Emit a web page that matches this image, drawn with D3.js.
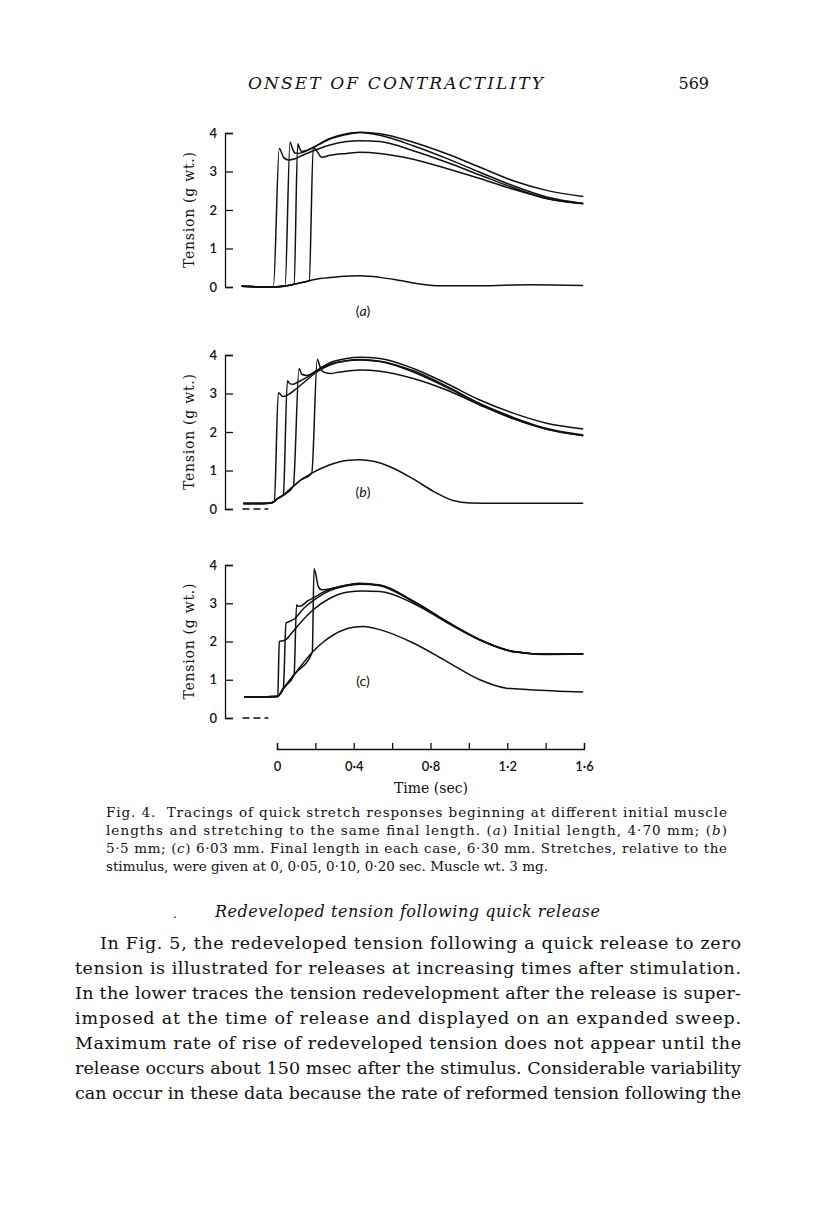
<!DOCTYPE html>
<html>
<head>
<meta charset="utf-8">
<script src="https://d3js.org/d3.v7.min.js"></script>
<style>
  body { margin: 0; background: #fff; }
</style>
</head>
<body>
<svg id="page" width="816" height="1221"></svg>
<script>
    // Fig. 4 -- tension traces.
    // each point is [time (sec), tension (g wt.)]
    const timeTicks = [0, 0.2, 0.4, 0.6, 0.8, 1.0, 1.2, 1.4, 1.6];
    const tensionTicks = [0, 1, 2, 3, 4];

    // (a) initial length 4.70 mm
    const baseA = [[-0.184,0.02],[-0.019,0.0],[0.05,0.03],[0.123,0.11],[0.224,0.22],[0.328,0.27],[0.432,0.29],
        [0.536,0.25],[0.641,0.17],[0.745,0.08],[0.849,0.03],[1.057,0.03],[1.318,0.06],[1.596,0.04]];
    const stretchA0 = [[-0.019,0.0],[0.012,3.60],[0.035,3.36],[0.06,3.30],[0.094,3.33],[0.137,3.43],[0.189,3.54],
        [0.276,3.69],[0.363,3.78],[0.432,3.80],[0.536,3.78],[0.71,3.54],[0.884,3.24],[1.057,2.91],[1.231,2.58],[1.405,2.30],[1.596,2.17]];
    const stretchA05 = [[0.042,0.02],[0.068,3.76],[0.08,3.6],[0.094,3.48],[0.11,3.47],[0.137,3.5],[0.189,3.63],
        [0.276,3.86],[0.363,3.98],[0.432,4.02],[0.536,3.98],[0.71,3.76],[0.884,3.46],[1.057,3.11],[1.231,2.76],[1.405,2.51],[1.596,2.35]];
    const stretchA10 = [[0.089,0.07],[0.108,3.72],[0.118,3.6],[0.129,3.52],[0.15,3.54],[0.189,3.62],[0.276,3.84],
        [0.363,3.96],[0.432,4.01],[0.536,3.94],[0.71,3.67],[0.884,3.34],[1.057,2.98],[1.231,2.63],[1.405,2.34],[1.596,2.17]];
    const stretchA20 = [[0.168,0.16],[0.189,3.63],[0.205,3.55],[0.233,3.37],[0.276,3.42],[0.363,3.47],[0.432,3.50],
        [0.536,3.47],[0.71,3.32],[0.884,3.08],[1.057,2.82],[1.231,2.54],[1.405,2.30],[1.596,2.16]];

    // (b) initial length 5.5 mm
    const baseB = [[-0.175,0.14],[-0.04,0.15],[-0.014,0.2],[0.0,0.26],[0.033,0.36],[0.085,0.59],[0.12,0.74],
        [0.181,0.93],[0.276,1.15],[0.363,1.26],[0.432,1.28],[0.502,1.24],[0.606,1.06],[0.71,0.78],[0.815,0.46],
        [0.918,0.22],[1.005,0.155],[1.144,0.147],[1.596,0.147]];
    const stretchB0 = [[-0.014,0.2],[0.007,3.02],[0.033,2.92],[0.068,3.0],[0.102,3.13],[0.155,3.35],[0.207,3.56],
        [0.276,3.74],[0.363,3.85],[0.432,3.88],[0.536,3.84],[0.71,3.59],[0.884,3.19],[1.057,2.74],[1.231,2.38],[1.405,2.09],[1.596,1.92]];
    const stretchB05 = [[0.033,0.36],[0.054,3.33],[0.068,3.25],[0.085,3.24],[0.102,3.28],[0.155,3.42],[0.207,3.6],
        [0.276,3.8],[0.363,3.91],[0.432,3.94],[0.536,3.91],[0.71,3.65],[0.884,3.26],[1.057,2.83],[1.231,2.49],[1.405,2.23],[1.596,2.08]];
    const stretchB10 = [[0.085,0.59],[0.115,3.65],[0.129,3.5],[0.155,3.47],[0.207,3.58],[0.276,3.76],[0.363,3.85],
        [0.432,3.87],[0.536,3.83],[0.71,3.56],[0.884,3.16],[1.057,2.72],[1.231,2.36],[1.405,2.08],[1.596,1.91]];
    const stretchB20 = [[0.181,0.93],[0.21,3.89],[0.224,3.7],[0.241,3.56],[0.276,3.52],[0.328,3.56],[0.432,3.61],
        [0.536,3.58],[0.71,3.39],[0.884,3.09],[1.057,2.70],[1.231,2.34],[1.405,2.07],[1.596,1.90]];

    // (c) initial length 6.03 mm
    const baseC = [[-0.172,0.55],[-0.005,0.56],[0.004,0.57],[0.033,0.77],[0.089,1.13],[0.184,1.72],[0.24,1.98],
        [0.293,2.17],[0.398,2.37],[0.45,2.39],[0.536,2.31],[0.71,1.96],[0.884,1.48],[1.057,1.00],[1.196,0.78],
        [1.318,0.74],[1.596,0.68]];
    const stretchC0 = [[0.004,0.57],[0.012,2.0],[0.03,2.02],[0.05,2.06],[0.068,2.17],[0.12,2.48],[0.189,2.83],
        [0.276,3.13],[0.363,3.29],[0.45,3.32],[0.536,3.31],[0.71,3.0],[0.884,2.5],[1.057,2.04],[1.231,1.73],[1.405,1.66],[1.596,1.67]];
    const stretchC05 = [[0.033,0.77],[0.047,2.48],[0.068,2.53],[0.094,2.6],[0.12,2.76],[0.16,2.96],[0.189,3.07],
        [0.233,3.22],[0.276,3.33],[0.363,3.46],[0.432,3.50],[0.536,3.47],[0.71,3.06],[0.884,2.53],[1.057,2.05],
        [1.231,1.74],[1.405,1.67],[1.596,1.68]];
    const stretchC10 = [[0.089,1.13],[0.102,2.96],[0.11,2.92],[0.125,2.93],[0.16,3.06],[0.189,3.14],[0.233,3.27],
        [0.276,3.36],[0.363,3.48],[0.432,3.51],[0.536,3.46],[0.71,3.04],[0.884,2.51],[1.057,2.04],[1.231,1.74],
        [1.405,1.67],[1.596,1.68]];
    const stretchC20 = [[0.184,1.72],[0.193,3.90],[0.203,3.74],[0.215,3.44],[0.233,3.35],[0.276,3.38],[0.363,3.47],
        [0.432,3.52],[0.536,3.48],[0.71,3.05],[0.884,2.52],[1.057,2.05],[1.231,1.74],[1.405,1.67],[1.596,1.68]];

    // page text
    const runningHead = "ONSET OF CONTRACTILITY";
    const pageNumber = "569";
    const captionLines = [
        [["Fig. 4.  Tracings of quick stretch responses beginning at different initial muscle", false]],
        [["lengths and stretching to the same final length. (", false], ["a", true], [") Initial length, 4·70 mm; (", false], ["b", true], [")", false]],
        [["5·5 mm; (", false], ["c", true], [") 6·03 mm. Final length in each case, 6·30 mm. Stretches, relative to the", false]],
        [["stimulus, were given at 0, 0·05, 0·10, 0·20 sec. Muscle wt. 3 mg.", false]]
    ];
    const sectionHeading = "Redeveloped tension following quick release";
    const bodyLines = [
        "In Fig. 5, the redeveloped tension following a quick release to zero",
        "tension is illustrated for releases at increasing times after stimulation.",
        "In the lower traces the tension redevelopment after the release is super-",
        "imposed at the time of release and displayed on an expanded sweep.",
        "Maximum rate of rise of redeveloped tension does not appear until the",
        "release occurs about 150 msec after the stimulus. Considerable variability",
        "can occur in these data because the rate of reformed tension following the"
    ];

    const SERIF = "'DejaVu Serif', serif";
    const SANS = "Lato, 'DejaVu Sans', sans-serif";
    const INK = "#111";

    const svg = d3.select("#page");

    const x = d3.scaleLinear().domain([0, 1.6]).range([277, 584]);

    const panels = [
        { tag: "a", italic: true,  base: baseA, stretches: [stretchA0, stretchA05, stretchA10, stretchA20], bottom: 287, top: 133, tagY: 316, dash: false },
        { tag: "b", italic: true,  base: baseB, stretches: [stretchB0, stretchB05, stretchB10, stretchB20], bottom: 509, top: 355, tagY: 497, dash: true },
        { tag: "c", italic: false, base: baseC, stretches: [stretchC0, stretchC05, stretchC10, stretchC20], bottom: 718, top: 565, tagY: 686, dash: true }
    ];

    panels.forEach(p => {
        const y = d3.scaleLinear().domain([0, 4]).range([p.bottom, p.top]);
        const g = svg.append("g");

        // y axis, ticks pointing into the plot
        g.append("g")
            .attr("transform", "translate(225,0)")
            .call(d3.axisLeft(y).tickValues(tensionTicks).tickFormat(d3.format("d"))
                .tickSizeInner(-8).tickSizeOuter(-8).tickPadding(8))
            .call(a => a.selectAll("path, line").attr("stroke", INK).attr("stroke-width", 1.3))
            .call(a => a.selectAll("text").attr("fill", INK).style("font", `600 13px ${SANS}`));

        g.append("text")
            .attr("transform", `translate(194,${(p.top + p.bottom) / 2}) rotate(-90)`)
            .attr("text-anchor", "middle")
            .attr("textLength", 116)
            .attr("fill", INK)
            .style("font", `14px ${SERIF}`)
            .text("Tension (g wt.)");

        if (p.dash) {
            g.append("line")
                .attr("x1", x(-0.18)).attr("x2", x(-0.045))
                .attr("y1", y(0)).attr("y2", y(0))
                .attr("stroke", INK).attr("stroke-width", 1.3)
                .attr("stroke-dasharray", "7,4");
        }

        const line = d3.line()
            .x(d => x(d[0]))
            .y(d => y(d[1]))
            .curve(d3.curveMonotoneX);

        // each stretch trace runs along the unstretched trace until the stretch begins
        const traces = [p.base].concat(p.stretches.map(s =>
            p.base.filter(b => b[0] < s[0][0]).concat(s)));

        g.selectAll("path.trace")
            .data(traces)
            .join("path")
            .attr("class", "trace")
            .attr("d", line)
            .attr("fill", "none")
            .attr("stroke", INK)
            .attr("stroke-width", 1.5)
            .attr("stroke-linejoin", "round");

        const tag = g.append("text")
            .attr("x", 363).attr("y", p.tagY)
            .attr("text-anchor", "middle")
            .attr("fill", INK)
            .style("font", `14px ${SANS}`);
        tag.append("tspan").text("(");
        tag.append("tspan").style("font-style", p.italic ? "italic" : "normal").text(p.tag);
        tag.append("tspan").text(")");
    });

    // shared time axis under the panels
    const fmt = d => (Math.round(d * 10) % 4 === 0) ? (d === 0 ? "0" : d.toFixed(1).replace(".", "·")) : "";
    svg.append("g")
        .attr("transform", "translate(0,749)")
        .call(d3.axisBottom(x).tickValues(timeTicks).tickSizeInner(-6).tickSizeOuter(-6).tickPadding(13).tickFormat(fmt))
        .call(a => a.selectAll("path, line").attr("stroke", INK).attr("stroke-width", 1.3))
        .call(a => a.selectAll("text").attr("fill", INK).style("font", `600 13px ${SANS}`));

    svg.append("text")
        .attr("x", 431).attr("y", 793)
        .attr("text-anchor", "middle")
        .attr("fill", INK)
        .style("font", `14px ${SERIF}`)
        .text("Time (sec)");

    // running head
    svg.append("text")
        .attr("x", 248).attr("y", 89)
        .attr("textLength", 295).attr("lengthAdjust", "spacing")
        .attr("fill", INK)
        .style("font", `italic 17px ${SERIF}`)
        .text(runningHead);
    svg.append("text")
        .attr("x", 709).attr("y", 89)
        .attr("text-anchor", "end")
        .attr("fill", INK)
        .style("font", `16px ${SERIF}`)
        .text(pageNumber);

    // caption, first three lines set full measure, last line ragged
    captionLines.forEach((parts, i) => {
        const t = svg.append("text")
            .attr("x", 106).attr("y", 817 + i * 18)
            .attr("fill", INK)
            .style("font", `13.5px ${SERIF}`)
            .style("white-space", "pre");
        if (i < 3) t.attr("textLength", 621).attr("lengthAdjust", "spacing");
        parts.forEach(([s, it]) => t.append("tspan").style("font-style", it ? "italic" : "normal").text(s));
    });

    // section heading and body text
    svg.append("text")
        .attr("x", 173).attr("y", 918)
        .attr("fill", INK)
        .style("font", `12px ${SERIF}`)
        .text(".");
    svg.append("text")
        .attr("x", 215).attr("y", 917)
        .attr("textLength", 385).attr("lengthAdjust", "spacing")
        .attr("fill", INK)
        .style("font", `italic 16px ${SERIF}`)
        .text(sectionHeading);

    bodyLines.forEach((s, i) => {
        const left = i === 0 ? 100 : 75;
        svg.append("text")
            .attr("x", left).attr("y", 949 + i * 25)
            .attr("textLength", 741 - left).attr("lengthAdjust", "spacing")
            .attr("fill", INK)
            .style("font", `17.5px ${SERIF}`)
            .text(s);
    });
</script>
</body>
</html>
